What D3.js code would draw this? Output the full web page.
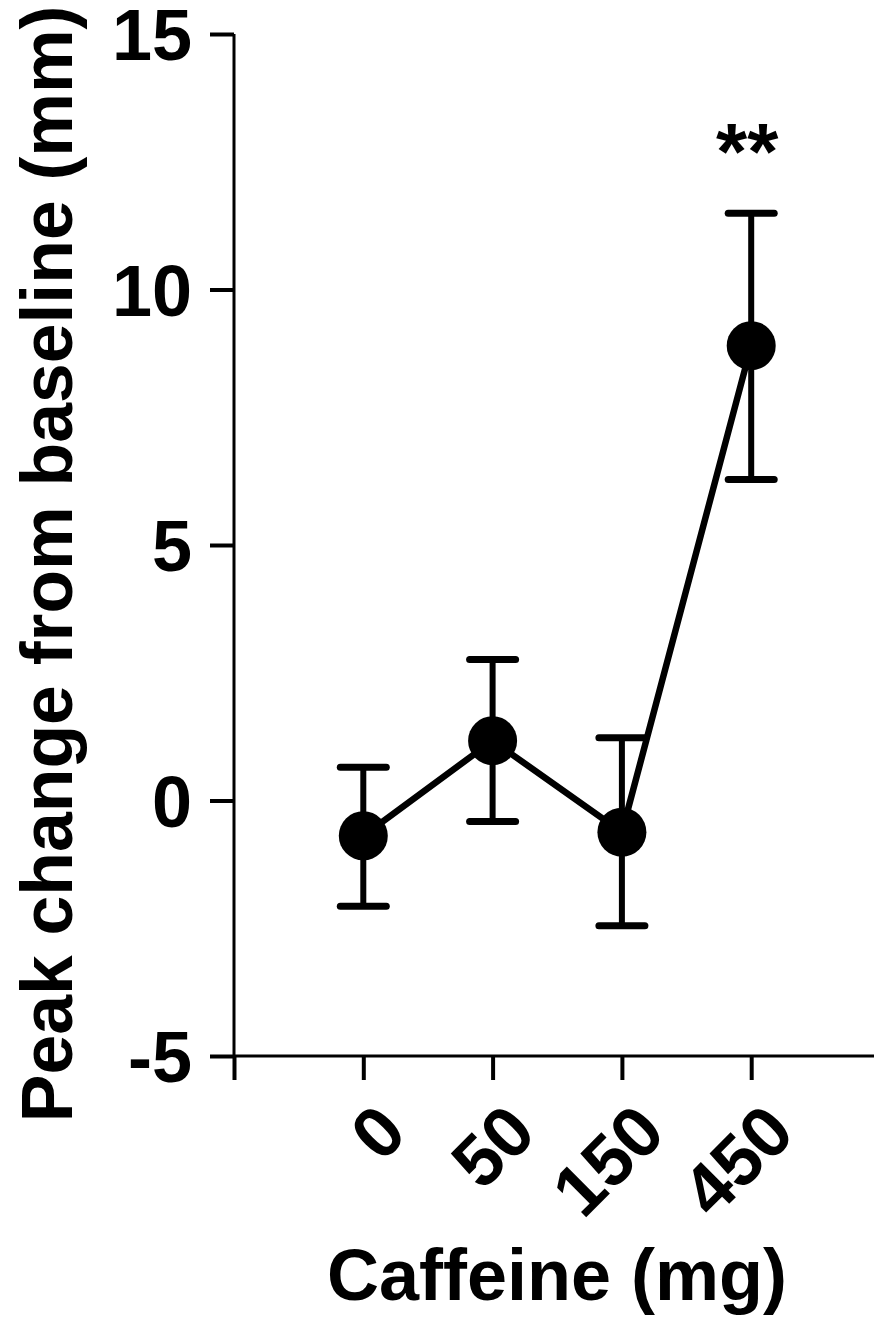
<!DOCTYPE html>
<html>
<head>
<meta charset="utf-8">
<script src="https://cdn.jsdelivr.net/npm/d3@7"></script>
<style>
  html, body { margin: 0; padding: 0; background: #fff; }
  svg { display: block; }
  text { font-family: "Liberation Sans", Arial, sans-serif; font-weight: bold; fill: #000; }
</style>
</head>
<body>
<svg id="chart" width="874" height="1319"></svg>
<script>
const categories = ["0", "50", "150", "450"];
const means = [-0.69, 1.17, -0.62, 8.90];
const errUpper = [0.65, 2.76, 1.23, 11.49];
const errLower = [-2.07, -0.41, -2.45, 6.28];
const yTicks = [-5, 0, 5, 10, 15];
const significance = ["", "", "", "**"];

const svg = d3.select("#chart");
const W = 874, H = 1319;
const x = d3.scaleLinear().domain([0, 5]).range([234, 880.5]);
const y = d3.scaleLinear().domain([-5, 15]).range([1056, 34]);

// y axis
const yAxis = d3.axisLeft(y).tickValues(yTicks).tickSize(24).tickPadding(18).tickFormat(d => String(d));
const gy = svg.append("g").attr("transform", `translate(${x(0)},0)`).call(yAxis);
gy.select(".domain").attr("stroke", "#000").attr("stroke-width", 3).attr("d", `M0,${y(15)}V${y(-5)}`);
gy.selectAll(".tick line").attr("stroke", "#000").attr("stroke-width", 4);
gy.selectAll(".tick text").attr("font-size", 72).attr("font-family", "Liberation Sans, Arial, sans-serif").attr("font-weight", "bold").attr("fill", "#000").attr("dy", "0.36em");

// x axis
const xAxis = d3.axisBottom(x).tickValues([0, 1, 2, 3, 4]).tickSize(24).tickFormat(d => d === 0 ? "" : categories[d - 1]);
const gx = svg.append("g").attr("transform", `translate(0,${y(-5)})`).call(xAxis);
gx.select(".domain").attr("stroke", "#000").attr("stroke-width", 3).attr("d", `M${x(0)},0H${W}`);
gx.selectAll(".tick line").attr("stroke", "#000").attr("stroke-width", 4);
gx.selectAll(".tick text")
  .attr("font-size", 72).attr("font-family", "Liberation Sans, Arial, sans-serif").attr("font-weight", "bold").attr("fill", "#000")
  .attr("text-anchor", "end")
  .attr("transform", "translate(10,44) rotate(-45)")
  .attr("dy", "0.7em").attr("y", 0);

const data = categories.map((c, i) => ({ i: i + 1, c, m: means[i], hi: errUpper[i], lo: errLower[i], s: significance[i] }));

// error bars
const eb = svg.append("g");
data.forEach(d => {
  eb.append("line").attr("x1", x(d.i)).attr("x2", x(d.i)).attr("y1", y(d.hi)).attr("y2", y(d.lo)).attr("stroke", "#000").attr("stroke-width", 6);
  [d.hi, d.lo].forEach(v => {
    eb.append("line").attr("x1", x(d.i) - 23).attr("x2", x(d.i) + 23).attr("y1", y(v)).attr("y2", y(v)).attr("stroke", "#000").attr("stroke-width", 7).attr("stroke-linecap", "round");
  });
});

// line
svg.append("path").datum(data)
  .attr("d", d3.line().x(d => x(d.i)).y(d => y(d.m)))
  .attr("fill", "none").attr("stroke", "#000").attr("stroke-width", 6.5);

// markers
svg.append("g").selectAll("circle").data(data).join("circle")
  .attr("cx", d => x(d.i)).attr("cy", d => y(d.m)).attr("r", 24.5).attr("fill", "#000");

// significance
svg.append("g").selectAll("text").data(data.filter(d => d.s)).join("text")
  .attr("x", d => x(d.i) - 4).attr("y", d => y(d.hi) - 34)
  .attr("text-anchor", "middle").attr("font-size", 80).text(d => d.s);

// axis titles
svg.append("text").attr("transform", `translate(72,564) rotate(-90)`).attr("text-anchor", "middle")
  .attr("font-size", 71.5).text("Peak change from baseline (mm)");
svg.append("text").attr("x", 557).attr("y", 1300).attr("text-anchor", "middle")
  .attr("font-size", 72).text("Caffeine (mg)");
</script>
</body>
</html>
